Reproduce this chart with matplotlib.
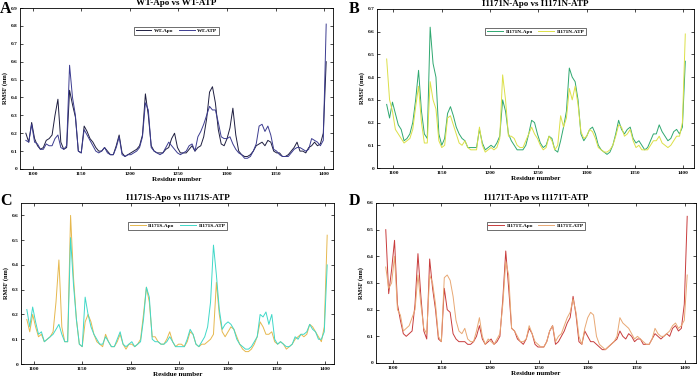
import numpy as np
import matplotlib.pyplot as plt

# residue grid (every 3rd residue)
residues = np.arange(1093, 1403, 3)

# Panel A: WT
wt_apo = [0.20, 0.15, 0.26, 0.17, 0.13, 0.11, 0.12, 0.16, 0.17, 0.19,
          0.30, 0.39, 0.15, 0.11, 0.12, 0.44, 0.36, 0.29, 0.10, 0.09,
          0.24, 0.21, 0.17, 0.15, 0.12, 0.10, 0.10, 0.12, 0.10, 0.08,
          0.08, 0.13, 0.19, 0.09, 0.07, 0.08, 0.09, 0.10, 0.11, 0.13,
          0.19, 0.42, 0.30, 0.13, 0.10, 0.09, 0.09, 0.09, 0.11, 0.12,
          0.17, 0.20, 0.12, 0.09, 0.09, 0.09, 0.11, 0.13, 0.10, 0.12,
          0.13, 0.18, 0.28, 0.43, 0.46, 0.37, 0.22, 0.14, 0.13, 0.17,
          0.23, 0.34, 0.19, 0.10, 0.08, 0.07, 0.07, 0.08, 0.10, 0.13,
          0.14, 0.15, 0.13, 0.16, 0.15, 0.10, 0.09, 0.09, 0.07, 0.07,
          0.08, 0.10, 0.12, 0.15, 0.10, 0.10, 0.09, 0.12, 0.13, 0.15,
          0.13, 0.14, 0.20, 0.60]
wt_atp = [0.16, 0.15, 0.25, 0.15, 0.14, 0.11, 0.11, 0.14, 0.13, 0.13,
          0.17, 0.19, 0.12, 0.11, 0.13, 0.58, 0.40, 0.30, 0.10, 0.09,
          0.22, 0.19, 0.16, 0.13, 0.10, 0.09, 0.10, 0.12, 0.09, 0.08,
          0.08, 0.12, 0.18, 0.08, 0.07, 0.08, 0.08, 0.09, 0.10, 0.12,
          0.18, 0.37, 0.33, 0.12, 0.10, 0.09, 0.08, 0.09, 0.12, 0.15,
          0.13, 0.11, 0.09, 0.08, 0.09, 0.10, 0.13, 0.14, 0.10, 0.18,
          0.21, 0.25, 0.30, 0.35, 0.33, 0.33, 0.26, 0.18, 0.17, 0.17,
          0.18, 0.14, 0.11, 0.09, 0.08, 0.06, 0.06, 0.07, 0.10, 0.14,
          0.24, 0.25, 0.21, 0.24, 0.19, 0.11, 0.10, 0.08, 0.07, 0.07,
          0.07, 0.09, 0.11, 0.12, 0.12, 0.11, 0.10, 0.11, 0.17, 0.16,
          0.15, 0.13, 0.16, 0.81]

# Panel B: I1171N
n_apo = [0.28, 0.22, 0.29, 0.24, 0.19, 0.17, 0.12, 0.13, 0.15, 0.20,
         0.30, 0.43, 0.25, 0.15, 0.13, 0.62, 0.46, 0.40, 0.15, 0.10,
         0.13, 0.24, 0.27, 0.23, 0.18, 0.15, 0.13, 0.12, 0.09, 0.09,
         0.09, 0.09, 0.17, 0.11, 0.08, 0.09, 0.10, 0.09, 0.11, 0.14,
         0.30, 0.25, 0.15, 0.12, 0.10, 0.08, 0.08, 0.08, 0.10, 0.15,
         0.21, 0.20, 0.15, 0.11, 0.09, 0.10, 0.14, 0.13, 0.08, 0.07,
         0.12, 0.18, 0.25, 0.44, 0.40, 0.38, 0.30, 0.15, 0.12, 0.14,
         0.17, 0.18, 0.15, 0.10, 0.08, 0.07, 0.06, 0.07, 0.10, 0.15,
         0.21, 0.17, 0.15, 0.17, 0.18, 0.13, 0.11, 0.12, 0.10, 0.08,
         0.09, 0.12, 0.15, 0.15, 0.19, 0.16, 0.14, 0.12, 0.13, 0.16,
         0.17, 0.15, 0.18, 0.47]
n_atp = [0.48, 0.30, 0.25, 0.17, 0.15, 0.13, 0.11, 0.12, 0.13, 0.17,
         0.27, 0.36, 0.20, 0.11, 0.11, 0.38, 0.30, 0.26, 0.12, 0.09,
         0.10, 0.22, 0.23, 0.19, 0.15, 0.11, 0.10, 0.12, 0.09, 0.08,
         0.08, 0.08, 0.18, 0.10, 0.07, 0.08, 0.09, 0.08, 0.09, 0.13,
         0.41, 0.30, 0.14, 0.14, 0.13, 0.10, 0.09, 0.09, 0.12, 0.15,
         0.18, 0.15, 0.13, 0.10, 0.08, 0.09, 0.14, 0.12, 0.08, 0.10,
         0.23, 0.18, 0.22, 0.35, 0.30, 0.36, 0.28, 0.16, 0.13, 0.14,
         0.17, 0.16, 0.13, 0.09, 0.08, 0.07, 0.07, 0.08, 0.10, 0.14,
         0.19, 0.18, 0.14, 0.15, 0.17, 0.12, 0.09, 0.10, 0.08, 0.08,
         0.08, 0.10, 0.12, 0.12, 0.14, 0.11, 0.10, 0.09, 0.10, 0.12,
         0.14, 0.14, 0.20, 0.59]

# Panel C: I1171S
s_apo = [0.18, 0.13, 0.20, 0.15, 0.11, 0.12, 0.09, 0.10, 0.11, 0.13,
         0.25, 0.42, 0.15, 0.09, 0.09, 0.60, 0.35, 0.18, 0.08, 0.07,
         0.17, 0.20, 0.17, 0.12, 0.09, 0.08, 0.07, 0.12, 0.09, 0.07,
         0.07, 0.09, 0.12, 0.08, 0.06, 0.08, 0.08, 0.07, 0.08, 0.10,
         0.20, 0.31, 0.25, 0.11, 0.11, 0.09, 0.08, 0.08, 0.10, 0.13,
         0.09, 0.07, 0.08, 0.08, 0.07, 0.09, 0.13, 0.12, 0.08, 0.07,
         0.08, 0.08, 0.09, 0.10, 0.12, 0.33, 0.20, 0.13, 0.11, 0.13,
         0.15, 0.14, 0.11, 0.08, 0.06, 0.05, 0.05, 0.06, 0.08, 0.11,
         0.17, 0.15, 0.12, 0.12, 0.13, 0.09, 0.08, 0.09, 0.08, 0.06,
         0.07, 0.08, 0.10, 0.11, 0.12, 0.11, 0.12, 0.16, 0.15, 0.13,
         0.11, 0.09, 0.15, 0.52]
s_atp = [0.22, 0.15, 0.23, 0.17, 0.12, 0.13, 0.09, 0.10, 0.11, 0.12,
         0.14, 0.16, 0.12, 0.09, 0.09, 0.51, 0.32, 0.18, 0.08, 0.07,
         0.27, 0.20, 0.15, 0.12, 0.10, 0.08, 0.08, 0.11, 0.09, 0.07,
         0.07, 0.10, 0.13, 0.08, 0.07, 0.08, 0.09, 0.07, 0.08, 0.09,
         0.18, 0.31, 0.27, 0.10, 0.09, 0.09, 0.08, 0.08, 0.09, 0.11,
         0.09, 0.07, 0.07, 0.07, 0.07, 0.10, 0.14, 0.12, 0.08, 0.07,
         0.09, 0.11, 0.15, 0.25, 0.48, 0.36, 0.22, 0.14, 0.16, 0.17,
         0.16, 0.14, 0.10, 0.08, 0.07, 0.06, 0.06, 0.07, 0.09, 0.11,
         0.20, 0.19, 0.21, 0.16, 0.20, 0.10, 0.08, 0.09, 0.08, 0.07,
         0.07, 0.08, 0.11, 0.10, 0.12, 0.12, 0.13, 0.16, 0.14, 0.13,
         0.10, 0.10, 0.13, 0.40]

# Panel D: I1171T
t_apo = [0.50, 0.26, 0.35, 0.46, 0.22, 0.16, 0.11, 0.10, 0.11, 0.12,
         0.22, 0.41, 0.25, 0.12, 0.09, 0.39, 0.28, 0.20, 0.09, 0.08,
         0.28, 0.20, 0.19, 0.11, 0.09, 0.08, 0.08, 0.08, 0.07, 0.07,
         0.08, 0.10, 0.14, 0.09, 0.07, 0.08, 0.09, 0.07, 0.08, 0.10,
         0.24, 0.42, 0.28, 0.13, 0.12, 0.09, 0.08, 0.07, 0.09, 0.13,
         0.11, 0.07, 0.06, 0.06, 0.06, 0.08, 0.12, 0.14, 0.07, 0.08,
         0.10, 0.12, 0.15, 0.17, 0.25, 0.18, 0.08, 0.07, 0.12, 0.10,
         0.08, 0.08, 0.07, 0.06, 0.05, 0.05, 0.06, 0.07, 0.08, 0.09,
         0.12, 0.10, 0.09, 0.11, 0.10, 0.08, 0.09, 0.09, 0.07, 0.07,
         0.07, 0.09, 0.11, 0.10, 0.09, 0.10, 0.11, 0.10, 0.13, 0.14,
         0.12, 0.13, 0.22, 0.55]
t_atp = [0.36, 0.28, 0.30, 0.40, 0.20, 0.18, 0.12, 0.13, 0.14, 0.17,
         0.20, 0.33, 0.22, 0.13, 0.11, 0.33, 0.30, 0.22, 0.10, 0.08,
         0.32, 0.33, 0.31, 0.25, 0.16, 0.12, 0.11, 0.13, 0.09, 0.08,
         0.08, 0.12, 0.17, 0.10, 0.07, 0.09, 0.08, 0.07, 0.09, 0.11,
         0.22, 0.38, 0.33, 0.13, 0.12, 0.10, 0.08, 0.08, 0.09, 0.14,
         0.11, 0.08, 0.07, 0.06, 0.06, 0.08, 0.12, 0.14, 0.08, 0.10,
         0.11, 0.14, 0.17, 0.19, 0.24, 0.19, 0.10, 0.07, 0.13, 0.17,
         0.19, 0.18, 0.10, 0.07, 0.06, 0.05, 0.06, 0.07, 0.08, 0.10,
         0.17, 0.15, 0.14, 0.13, 0.11, 0.09, 0.10, 0.09, 0.08, 0.07,
         0.07, 0.09, 0.13, 0.11, 0.10, 0.10, 0.11, 0.12, 0.14, 0.15,
         0.13, 0.14, 0.16, 0.33]

panels = [
    ('A', 'WT-Apo vs WT-ATP', wt_apo, wt_atp, ['WT-Apo', 'WT-ATP'],
     ['#1e1e40', '#3c3c90'], 0.9, (1087, 1409)),
    ('B', 'I1171N-Apo vs I1171N-ATP', n_apo, n_atp, ['I1171N-Apo', 'I1171N-ATP'],
     ['#2fa870', '#dce048'], 0.7, (1083, 1411)),
    ('C', 'I1171S-Apo vs I1171S-ATP', s_apo, s_atp, ['I1171S-Apo', 'I1171S-ATP'],
     ['#e6b84e', '#40d8c8'], 0.65, (1087, 1409)),
    ('D', 'I1171T-Apo vs I1171T-ATP', t_apo, t_atp, ['I1171T-Apo', 'I1171T-ATP'],
     ['#c83c3c', '#e8a874'], 0.6, (1083, 1411)),
]

plt.rcParams['font.family'] = 'Liberation Serif'
plt.rcParams['font.weight'] = 'bold'

W, H = 697, 379
fig = plt.figure(figsize=(W / 100, H / 100), dpi=100)

# axes boxes in pixels: left, top, right, bottom
boxes = [(20, 8, 333, 169), (377, 9, 694, 168),
         (21, 203, 334, 364), (376, 203, 696, 363)]
letter_pos = [(0, 1), (349, 1), (0, 193), (349, 193)]

for (letter, title, apo, atp, labels, colors, ymax, xl), box, lp in zip(panels, boxes, letter_pos):
    l, t, r, b = box
    ax = fig.add_axes([l / W, 1 - b / H, (r - l) / W, (b - t) / H])
    ax.plot(residues, apo, color=colors[0], lw=0.7, label=labels[0])
    ax.plot(residues, atp, color=colors[1], lw=0.7, label=labels[1])
    ax.set_xlim(*xl)
    ax.set_ylim(0, ymax)
    ax.set_xticks([1100, 1150, 1200, 1250, 1300, 1350, 1400])
    yt = np.round(np.arange(0, ymax + 0.001, 0.1), 1)
    ax.set_yticks(yt)
    ax.set_yticklabels(['%g' % v for v in yt])
    ax.tick_params(direction='in', top=True, right=True, labelsize=3.8,
                   length=2, width=0.5, pad=2)
    for s in ax.spines.values():
        s.set_linewidth(0.6)
    ax.set_title(title, fontsize=6.5, fontweight='bold', pad=2)
    ax.set_xlabel('Residue number', fontsize=5, fontweight='bold', labelpad=1)
    ax.set_ylabel('RMSF (nm)', fontsize=4.5, fontweight='bold', labelpad=2)
    leg = ax.legend(loc='upper center', bbox_to_anchor=(0.5, 0.9), ncol=2,
                    fontsize=3.8, frameon=True, fancybox=False,
                    handlelength=3, columnspacing=1, borderpad=0.3,
                    handletextpad=0.5)
    leg.get_frame().set_edgecolor('black')
    leg.get_frame().set_linewidth(0.5)
    fig.text(lp[0] / W, 1 - lp[1] / H, letter, fontsize=11.5, fontweight='bold',
             va='top', ha='left')

fig.savefig('out.png', dpi=100)
